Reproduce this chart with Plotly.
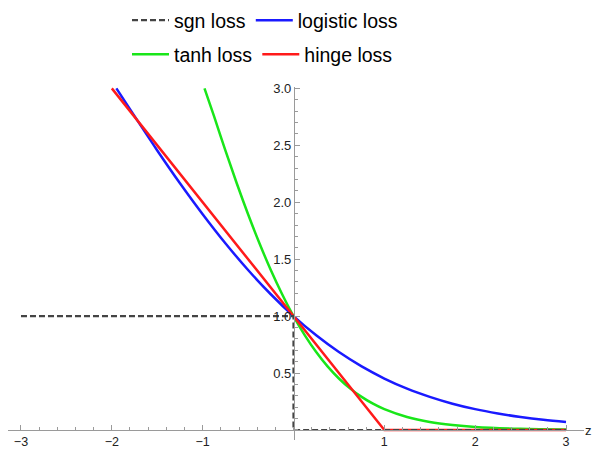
import plotly.graph_objects as go

# ---- data ----
sgn_z = [-3.0, 0.0, 0.0, 3.0]
sgn_loss = [1.0, 1.0, 0.0, 0.0]

logistic_z = [-1.95, -1.75, -1.5, -1.25, -1.0, -0.75, -0.5, -0.25, 0.0, 0.25, 0.5, 0.75,
              1.0, 1.25, 1.5, 1.75, 2.0, 2.25, 2.5, 2.75, 3.0]
logistic_loss = [3.00, 2.756, 2.455, 2.167, 1.895, 1.640, 1.405, 1.192, 1.0, 0.831, 0.684, 0.558,
                 0.452, 0.363, 0.291, 0.231, 0.183, 0.145, 0.114, 0.089, 0.070]

tanh_z = [-0.98, -0.875, -0.75, -0.625, -0.5, -0.375, -0.25, -0.125, 0.0, 0.125, 0.25, 0.375,
          0.5, 0.625, 0.75, 0.875, 1.0, 1.25, 1.5, 1.75, 2.0, 2.5, 3.0]
tanh_loss = [3.00, 2.756, 2.455, 2.167, 1.895, 1.640, 1.405, 1.192, 1.0, 0.831, 0.684, 0.558,
             0.452, 0.363, 0.291, 0.231, 0.183, 0.114, 0.070, 0.043, 0.026, 0.010, 0.004]

hinge_z = [-2.0, 1.0, 3.0]
hinge_loss = [3.0, 0.0, 0.0]

x_tickvals = [-3, -2, -1, 1, 2, 3]
x_ticktext = ["\u22123", "\u22122", "\u22121", "1", "2", "3"]
y_tickvals = [0.5, 1.0, 1.5, 2.0, 2.5, 3.0]
y_ticktext = ["0.5", "1.0", "1.5", "2.0", "2.5", "3.0"]

FONT = "Liberation Sans, Arial, sans-serif"
AX = "#9a9a9a"

fig = go.Figure()
fig.add_trace(go.Scatter(x=logistic_z, y=logistic_loss, mode="lines", name="logistic loss",
                         line=dict(color="#1a1aff", width=2.5, shape="spline"), legend="legend",
                         legendrank=2))
fig.add_trace(go.Scatter(x=tanh_z, y=tanh_loss, mode="lines", name="tanh loss",
                         line=dict(color="#19e619", width=2.5, shape="spline"), legend="legend2",
                         legendrank=1))
fig.add_trace(go.Scatter(x=hinge_z, y=hinge_loss, mode="lines", name="hinge loss",
                         line=dict(color="#ff1a1a", width=2.5), legend="legend2", legendrank=2))
fig.add_trace(go.Scatter(x=sgn_z, y=sgn_loss, mode="lines", name="sgn loss",
                         line=dict(color="#444444", width=2.2, dash="6px,3px"), legend="legend",
                         legendrank=1))

legend_common = dict(orientation="h", x=0.2066, xanchor="left", yanchor="top",
                     font=dict(size=19.5, color="black", family=FONT),
                     bgcolor="rgba(0,0,0,0)", itemwidth=37, traceorder="normal")

fig.update_layout(
    width=592, height=449,
    margin=dict(l=8, r=8, t=87, b=9, autoexpand=False),
    paper_bgcolor="white", plot_bgcolor="white",
    font=dict(family=FONT, color="#222222"),
    showlegend=True,
    legend=dict(y=1.2435, **legend_common),
    legend2=dict(y=1.147, **legend_common),
    xaxis=dict(range=[-3.143, 3.198], anchor="free", position=0.02825, automargin=False,
               showline=True, linecolor=AX, linewidth=1.2, showgrid=False, zeroline=False,
               ticks="inside", ticklen=5, tickcolor=AX, tickwidth=1,
               tickmode="array", tickvals=x_tickvals, ticktext=x_ticktext,
               tickfont=dict(size=12.5, color="#222222"), ticklabelstandoff=0,
               minor=dict(tickmode="linear", tick0=0, dtick=0.2, ticks="inside", ticklen=3,
                          tickcolor=AX, showgrid=False)),
    yaxis=dict(range=[-0.088, 3.012], anchor="free", position=0.4965, automargin=False,
               showline=True, linecolor=AX, linewidth=1.2, showgrid=False, zeroline=False,
               ticks="inside", ticklen=5, tickcolor=AX, tickwidth=1,
               tickmode="array", tickvals=y_tickvals, ticktext=y_ticktext,
               tickfont=dict(size=13, color="#222222"),
               minor=dict(tickmode="linear", tick0=0, dtick=0.1, ticks="inside", ticklen=3,
                          tickcolor=AX, showgrid=False)),
    annotations=[dict(x=1.0, y=0.02825, xref="paper", yref="paper", text="z", showarrow=False,
                      xanchor="left", yanchor="middle", xshift=-1,
                      font=dict(size=13, color="#222222"))],
)

fig.write_html("out.html", config={"displayModeBar": False},
               post_script="document.body.style.margin='0px';document.body.style.overflow='hidden';")
